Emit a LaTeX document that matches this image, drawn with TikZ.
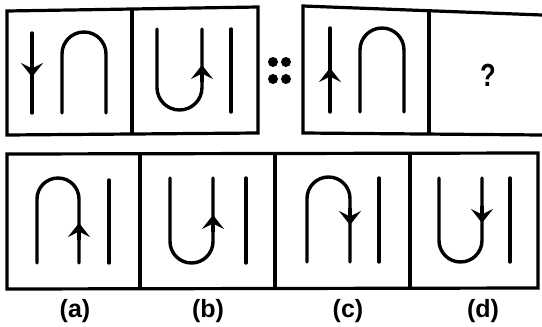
\documentclass[tikz,border=0pt]{standalone}
\usepackage{fontspec}
\setmainfont{Liberation Sans}
\usetikzlibrary{arrows.meta}
\begin{document}
\begin{tikzpicture}[x=1pt,y=-1pt,
  frame/.style={line width=3.2pt, line join=miter},
  fig/.style={line width=3.4pt, line cap=round},
  arr/.style={line width=3.4pt, -{Stealth[length=14pt,width=22pt,inset=5.5pt]}},
  lbl/.style={font=\fontsize{25}{27}\selectfont\bfseries, inner sep=0pt}]
\useasboundingbox (0,0) rectangle (542,327);
% top-left frame
\draw[frame] (7,11) -- (258,7) -- (258,133) -- (7,135) -- cycle;
\draw[frame] (132,9) -- (132,134);
% top-right frame
\draw[frame] (542,15) -- (303,6) -- (303,133) -- (542,135);
\draw[frame] (429,10.5) -- (429,134);
% bottom frame
\draw[frame] (7,154) -- (538,153) -- (538,288) -- (7,289) -- cycle;
\draw[frame] (140,154) -- (140,289);
\draw[frame] (275,153.5) -- (275,288.5);
\draw[frame] (410,153) -- (410,288);
% panel 1
\draw[fig] (32,33) -- (32,113);
\draw[arr] (32,60) -- (32,77);
\draw[fig] (62,113) -- (62,54) arc[start angle=180,end angle=0,radius=22pt] -- (106,113);
% panel 2
\draw[fig] (157,29) -- (157,87.5) arc[start angle=180,end angle=360,radius=22.5pt] -- (202,29);
\draw[arr] (202,82) -- (202,65);
\draw[fig] (231,29) -- (231,112);
% :: dots
\fill (273,62) circle[radius=5pt] (286,62) circle[radius=5pt]
      (273,79) circle[radius=5pt] (286,79) circle[radius=5pt];
% panel 3
\draw[fig] (330,28) -- (330,112);
\draw[arr] (330,85) -- (330,68);
\draw[fig] (360,112) -- (360,50) arc[start angle=180,end angle=0,radius=22pt] -- (404,112);
% question
\node[inner sep=0pt, font=\fontsize{32}{34}\selectfont\bfseries] (q) at (488,75) {\scalebox{0.8}[1]{?}};
% (a)
\draw[fig] (37,263) -- (37,199) arc[start angle=180,end angle=0,radius=21pt] -- (79,263);
\draw[arr] (79,240) -- (79,223);
\draw[fig] (109,180) -- (109,263);
% (b)
\draw[fig] (170,178) -- (170,241.5) arc[start angle=180,end angle=360,radius=21.5pt] -- (213,178);
\draw[arr] (213,232) -- (213,215);
\draw[fig] (246,178) -- (246,263);
% (c)
\draw[fig] (307,262) -- (307,198.5) arc[start angle=180,end angle=0,radius=21.5pt] -- (350,262);
\draw[arr] (350,208) -- (350,225);
\draw[fig] (379,178) -- (379,262);
% (d)
\draw[fig] (439,178) -- (439,240.5) arc[start angle=180,end angle=360,radius=21.5pt] -- (482,178);
\draw[arr] (482,206) -- (482,223);
\draw[fig] (510,178) -- (510,262);
% labels
\node[lbl] (la) at (75,311) {(a)};
\node[lbl] (lb) at (208,311) {(b)};
\node[lbl] (lc) at (348,311) {(c)};
\node[lbl] (ld) at (483,311) {(d)};
\end{tikzpicture}
\end{document}
